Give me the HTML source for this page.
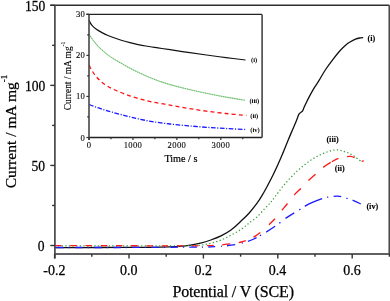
<!DOCTYPE html>
<html><head><meta charset="utf-8">
<style>
html,body{margin:0;padding:0;background:#fff;}
body{width:390px;height:301px;overflow:hidden;}
svg{display:block;will-change:transform;}
text{font-family:"Liberation Serif",serif;fill:#000;stroke:#000;stroke-width:0.25px;}
.tl{font-size:14px;}
.il{font-size:8.6px;stroke-width:0.1px;}
.lb{font-size:15.6px;}
.cl{font-size:8.2px;font-weight:bold;stroke-width:0.1px;}
.ci{font-size:6.6px;font-weight:bold;stroke-width:0;}
</style></head>
<body>
<svg width="390" height="301" viewBox="0 0 390 301">
<rect width="390" height="301" fill="#fff"/>
<g fill="none" stroke-linejoin="round">
<path d="M54.60 247.60 C62.17 247.58 84.10 247.55 100.00 247.50 C115.90 247.45 138.33 247.40 150.00 247.30 C161.67 247.20 165.00 247.07 170.00 246.90 C175.00 246.73 176.62 246.60 180.00 246.30 C183.38 246.00 186.88 245.63 190.30 245.10 C193.72 244.57 197.08 243.95 200.50 243.10 C203.92 242.25 207.38 241.20 210.80 240.00 C214.22 238.80 217.58 237.62 221.00 235.90 C224.42 234.18 227.97 232.17 231.30 229.70 C234.63 227.23 238.05 223.85 241.00 221.10 C243.95 218.35 246.38 216.10 249.00 213.20 C251.62 210.30 254.45 206.78 256.70 203.70 C258.95 200.62 260.68 197.73 262.50 194.70 C264.32 191.67 265.87 188.75 267.60 185.50 C269.33 182.25 271.25 178.53 272.90 175.20 C274.55 171.87 275.90 169.03 277.50 165.50 C279.10 161.97 280.75 158.17 282.50 154.00 C284.25 149.83 286.42 144.33 288.00 140.50 C289.58 136.67 290.58 134.33 292.00 131.00 C293.42 127.67 295.38 123.23 296.50 120.50 C297.62 117.77 298.02 115.92 298.70 114.60 C299.38 113.28 299.95 113.22 300.60 112.60 C301.25 111.98 302.03 111.75 302.60 110.90 C303.17 110.05 303.33 108.98 304.00 107.50 C304.67 106.02 305.72 103.82 306.60 102.00 C307.48 100.18 308.30 98.50 309.30 96.60 C310.30 94.70 311.50 92.48 312.60 90.60 C313.70 88.72 314.80 87.03 315.90 85.30 C317.00 83.57 317.58 82.83 319.20 80.20 C320.82 77.57 323.37 72.90 325.60 69.50 C327.83 66.10 330.28 62.85 332.60 59.80 C334.92 56.75 337.38 53.60 339.50 51.20 C341.62 48.80 343.48 46.97 345.30 45.40 C347.12 43.83 348.70 42.83 350.40 41.80 C352.10 40.77 353.97 39.83 355.50 39.20 C357.03 38.57 358.32 38.27 359.60 38.00 C360.88 37.73 362.60 37.67 363.20 37.60" stroke="#111" stroke-width="1.3"/>
<path d="M54.60 245.80 C65.50 245.80 100.77 245.78 120.00 245.80 C139.23 245.82 158.33 245.93 170.00 245.90 C181.67 245.87 184.92 245.72 190.00 245.60 C195.08 245.48 197.03 245.60 200.50 245.20 C203.97 244.80 207.38 244.05 210.80 243.20 C214.22 242.35 217.58 241.47 221.00 240.10 C224.42 238.73 228.00 236.75 231.30 235.00 C234.60 233.25 237.93 231.52 240.80 229.60 C243.67 227.68 245.87 225.55 248.50 223.50 C251.13 221.45 253.87 219.82 256.60 217.30 C259.33 214.78 262.55 210.90 264.90 208.40 C267.25 205.90 268.98 204.27 270.70 202.30 C272.42 200.33 273.57 198.75 275.20 196.60 C276.83 194.45 278.75 191.65 280.50 189.40 C282.25 187.15 283.87 185.20 285.70 183.10 C287.53 181.00 289.55 178.85 291.50 176.80 C293.45 174.75 295.37 172.68 297.40 170.80 C299.43 168.92 301.60 167.18 303.70 165.50 C305.80 163.82 307.87 162.15 310.00 160.70 C312.13 159.25 314.35 157.98 316.50 156.80 C318.65 155.62 320.78 154.53 322.90 153.60 C325.02 152.67 327.25 151.80 329.20 151.20 C331.15 150.60 333.10 150.22 334.60 150.00 C336.10 149.78 337.00 149.80 338.20 149.90 C339.40 150.00 340.68 150.28 341.80 150.60 C342.92 150.92 343.83 151.42 344.90 151.80 C345.97 152.18 347.10 152.43 348.20 152.90 C349.30 153.37 350.43 154.02 351.50 154.60 C352.57 155.18 353.57 155.70 354.60 156.40 C355.63 157.10 356.63 157.97 357.70 158.80 C358.77 159.63 360.45 160.97 361.00 161.40" stroke="#3c9c3c" stroke-width="1.25" stroke-dasharray="1.3 2.3"/>
<path d="M54.60 245.70 C65.50 245.70 99.10 245.67 120.00 245.70 C140.90 245.73 164.87 245.92 180.00 245.90 C195.13 245.88 202.93 245.88 210.80 245.60 C218.67 245.32 222.08 244.80 227.20 244.20 C232.32 243.60 237.40 242.98 241.50 242.00 C245.60 241.02 249.72 239.15 251.80 238.30 C253.88 237.45 252.63 237.82 254.00 236.90 C255.37 235.98 257.52 234.82 260.00 232.80 C262.48 230.78 266.42 227.13 268.90 224.80 C271.38 222.47 272.73 221.22 274.90 218.80 C277.07 216.38 279.80 212.85 281.90 210.30 C284.00 207.75 285.45 206.05 287.50 203.50 C289.55 200.95 291.98 197.50 294.20 195.00 C296.42 192.50 298.43 190.90 300.80 188.50 C303.17 186.10 305.95 182.98 308.40 180.60 C310.85 178.22 313.03 176.40 315.50 174.20 C317.97 172.00 320.67 169.37 323.20 167.40 C325.73 165.43 328.17 163.90 330.70 162.40 C333.23 160.90 335.70 159.37 338.40 158.40 C341.10 157.43 344.88 156.93 346.90 156.60 C348.92 156.27 349.23 156.23 350.50 156.40 C351.77 156.57 353.25 157.12 354.50 157.60 C355.75 158.08 356.83 158.72 358.00 159.30 C359.17 159.88 360.53 160.83 361.50 161.10 C362.47 161.37 363.42 160.93 363.80 160.90" stroke="#ff1a1a" stroke-width="1.3" stroke-dasharray="0.00 0.53 6.50 8.69 6.50 8.69 6.50 8.69 6.50 8.69 6.50 8.69 6.50 8.69 6.50 8.69 6.50 8.69 6.50 8.69 6.50 8.69 6.50 8.69 8.13 8.43 7.38 8.77 8.18 11.47 8.49 11.01 8.81 10.83 9.27 10.96 9.56 10.28 9.02 1.32 7.37 8.70 7.81 7.84 2.34 393.58"/>
<path d="M54.60 247.50 C65.50 247.50 99.10 247.55 120.00 247.50 C140.90 247.45 164.87 247.30 180.00 247.20 C195.13 247.10 202.25 247.23 210.80 246.90 C219.35 246.57 225.50 246.00 231.30 245.20 C237.10 244.40 241.85 243.13 245.60 242.10 C249.35 241.07 251.40 240.08 253.80 239.00 C256.20 237.92 257.97 236.73 260.00 235.60 C262.03 234.47 263.35 233.83 266.00 232.20 C268.65 230.57 273.58 227.37 275.90 225.80 C278.22 224.23 278.40 223.97 279.90 222.80 C281.40 221.63 282.88 220.23 284.90 218.80 C286.92 217.37 289.52 215.75 292.00 214.20 C294.48 212.65 297.62 210.85 299.80 209.50 C301.98 208.15 302.90 207.32 305.10 206.10 C307.30 204.88 310.17 203.43 313.00 202.20 C315.83 200.97 319.68 199.53 322.10 198.70 C324.52 197.87 325.63 197.58 327.50 197.20 C329.37 196.82 331.72 196.57 333.30 196.40 C334.88 196.23 335.67 196.17 337.00 196.20 C338.33 196.23 339.57 196.22 341.30 196.60 C343.03 196.98 345.35 197.83 347.40 198.50 C349.45 199.17 351.37 199.70 353.60 200.60 C355.83 201.50 359.60 203.35 360.80 203.90" stroke="#1a1aff" stroke-width="1.3" stroke-dasharray="0.00 1.67 7.50 4.90 1.20 5.40 7.50 4.90 1.20 5.40 7.50 4.90 1.20 5.40 7.50 4.90 1.20 5.40 7.50 4.90 1.20 5.40 7.50 4.90 1.20 5.40 7.50 4.90 1.20 5.40 7.50 4.90 1.20 5.40 6.82 6.01 1.01 4.79 8.29 6.73 1.01 5.26 9.58 3.95 1.33 5.98 10.37 5.54 1.37 6.44 10.24 5.77 1.36 5.38 18.93 5.19 1.15 5.36 7.67 5.37 1.32 5.33 8.98 370.17"/>
</g>
<g fill="none">
<path d="M50.30 5.3H389.3 M54.9 253.9H389.3" stroke="#2e2e2e" stroke-width="1.5"/>
<path d="M54.9 5.3V258.50 M389.3 5.3V253.9" stroke="#4a4a4a" stroke-width="1.7"/>
<g stroke="#333" stroke-width="1.4"><line x1="54.60" y1="253.90" x2="54.60" y2="258.50"/>
<line x1="91.80" y1="253.90" x2="91.80" y2="256.70"/>
<line x1="129.00" y1="253.90" x2="129.00" y2="258.50"/>
<line x1="166.20" y1="253.90" x2="166.20" y2="256.70"/>
<line x1="203.40" y1="253.90" x2="203.40" y2="258.50"/>
<line x1="240.60" y1="253.90" x2="240.60" y2="256.70"/>
<line x1="277.80" y1="253.90" x2="277.80" y2="258.50"/>
<line x1="315.00" y1="253.90" x2="315.00" y2="256.70"/>
<line x1="352.20" y1="253.90" x2="352.20" y2="258.50"/>
<line x1="389.40" y1="253.90" x2="389.40" y2="256.70"/>
<line x1="50.30" y1="245.50" x2="54.90" y2="245.50"/>
<line x1="52.10" y1="205.47" x2="54.90" y2="205.47"/>
<line x1="50.30" y1="165.44" x2="54.90" y2="165.44"/>
<line x1="52.10" y1="125.40" x2="54.90" y2="125.40"/>
<line x1="50.30" y1="85.37" x2="54.90" y2="85.37"/>
<line x1="52.10" y1="45.34" x2="54.90" y2="45.34"/>
<line x1="50.30" y1="5.31" x2="54.90" y2="5.31"/></g>
</g>
<rect x="89.0" y="14.4" width="173.10" height="123.10" fill="#fff"/>
<g fill="none" stroke-linejoin="round">
<path d="M88.90 34.30 C89.25 34.78 90.15 36.02 91.00 37.20 C91.85 38.38 92.83 39.90 94.00 41.40 C95.17 42.90 96.42 44.53 98.00 46.20 C99.58 47.87 101.52 49.70 103.50 51.40 C105.48 53.10 107.95 55.00 109.90 56.40 C111.85 57.80 113.52 58.77 115.20 59.80 C116.88 60.83 118.22 61.58 120.00 62.60 C121.78 63.62 123.90 64.78 125.90 65.90 C127.90 67.02 129.73 68.13 132.00 69.30 C134.27 70.47 136.50 71.52 139.50 72.90 C142.50 74.28 146.58 76.18 150.00 77.60 C153.42 79.02 156.67 80.23 160.00 81.40 C163.33 82.57 165.33 83.30 170.00 84.60 C174.67 85.90 181.92 87.75 188.00 89.20 C194.08 90.65 200.17 91.98 206.50 93.30 C212.83 94.62 219.60 95.93 226.00 97.10 C232.40 98.27 241.75 99.77 244.90 100.30" stroke="#a6dba6" stroke-width="1.1"/>
<path d="M88.90 34.30 C89.25 34.78 90.15 36.02 91.00 37.20 C91.85 38.38 92.83 39.90 94.00 41.40 C95.17 42.90 96.42 44.53 98.00 46.20 C99.58 47.87 101.52 49.70 103.50 51.40 C105.48 53.10 107.95 55.00 109.90 56.40 C111.85 57.80 113.52 58.77 115.20 59.80 C116.88 60.83 118.22 61.58 120.00 62.60 C121.78 63.62 123.90 64.78 125.90 65.90 C127.90 67.02 129.73 68.13 132.00 69.30 C134.27 70.47 136.50 71.52 139.50 72.90 C142.50 74.28 146.58 76.18 150.00 77.60 C153.42 79.02 156.67 80.23 160.00 81.40 C163.33 82.57 165.33 83.30 170.00 84.60 C174.67 85.90 181.92 87.75 188.00 89.20 C194.08 90.65 200.17 91.98 206.50 93.30 C212.83 94.62 219.60 95.93 226.00 97.10 C232.40 98.27 241.75 99.77 244.90 100.30" stroke="#55b055" stroke-width="0.9" stroke-dasharray="1 1.3"/>
<path d="M89.20 65.30 C89.50 65.92 90.28 67.72 91.00 69.00 C91.72 70.28 92.57 71.67 93.50 73.00 C94.43 74.33 95.35 75.58 96.60 77.00 C97.85 78.42 99.23 80.00 101.00 81.50 C102.77 83.00 104.87 84.58 107.20 86.00 C109.53 87.42 111.90 88.60 115.00 90.00 C118.10 91.40 121.97 93.00 125.80 94.40 C129.63 95.80 133.57 97.13 138.00 98.40 C142.43 99.67 147.07 100.88 152.40 102.00 C157.73 103.12 164.07 104.05 170.00 105.10 C175.93 106.15 181.92 107.28 188.00 108.30 C194.08 109.32 200.17 110.33 206.50 111.20 C212.83 112.07 219.35 112.78 226.00 113.50 C232.65 114.22 243.00 115.17 246.40 115.50" stroke="#ff1010" stroke-width="1.3" stroke-dasharray="4 3.1"/>
<path d="M89.20 104.50 C90.17 104.88 92.88 106.03 95.00 106.80 C97.12 107.57 99.07 108.20 101.90 109.10 C104.73 110.00 108.02 111.08 112.00 112.20 C115.98 113.32 121.47 114.70 125.80 115.80 C130.13 116.90 133.57 117.83 138.00 118.80 C142.43 119.77 147.07 120.73 152.40 121.60 C157.73 122.47 164.07 123.30 170.00 124.00 C175.93 124.70 181.92 125.25 188.00 125.80 C194.08 126.35 200.17 126.85 206.50 127.30 C212.83 127.75 219.52 128.13 226.00 128.50 C232.48 128.87 242.17 129.33 245.40 129.50" stroke="#1515ff" stroke-width="1.3" stroke-dasharray="4.6 1.6 1.1 1.6"/>
<path d="M89.20 20.00 C89.33 20.40 89.53 21.50 90.00 22.40 C90.47 23.30 91.00 24.30 92.00 25.40 C93.00 26.50 94.33 27.80 96.00 29.00 C97.67 30.20 100.00 31.52 102.00 32.60 C104.00 33.68 106.00 34.63 108.00 35.50 C110.00 36.37 111.67 36.97 114.00 37.80 C116.33 38.63 119.35 39.68 122.00 40.50 C124.65 41.32 127.40 42.07 129.90 42.70 C132.40 43.33 134.35 43.75 137.00 44.30 C139.65 44.85 142.30 45.40 145.80 46.00 C149.30 46.60 153.97 47.28 158.00 47.90 C162.03 48.52 165.00 48.95 170.00 49.70 C175.00 50.45 181.92 51.52 188.00 52.40 C194.08 53.28 200.17 54.13 206.50 55.00 C212.83 55.87 219.50 56.77 226.00 57.60 C232.50 58.43 242.25 59.60 245.50 60.00" stroke="#111" stroke-width="1.2"/>
</g>
<g fill="none">
<path d="M86.40 14.4H262.1 M89.0 137.5H262.1" stroke="#222" stroke-width="1.4"/>
<path d="M89.0 14.4V140.10 M262.1 14.4V137.5" stroke="#484848" stroke-width="1.6"/>
<g stroke="#333" stroke-width="1.2"><line x1="89.00" y1="137.50" x2="89.00" y2="140.10"/>
<line x1="110.97" y1="137.50" x2="110.97" y2="139.30"/>
<line x1="132.93" y1="137.50" x2="132.93" y2="140.10"/>
<line x1="154.89" y1="137.50" x2="154.89" y2="139.30"/>
<line x1="176.86" y1="137.50" x2="176.86" y2="140.10"/>
<line x1="198.82" y1="137.50" x2="198.82" y2="139.30"/>
<line x1="220.79" y1="137.50" x2="220.79" y2="140.10"/>
<line x1="242.75" y1="137.50" x2="242.75" y2="139.30"/>
<line x1="86.40" y1="137.50" x2="89.00" y2="137.50"/>
<line x1="87.20" y1="116.97" x2="89.00" y2="116.97"/>
<line x1="86.40" y1="96.43" x2="89.00" y2="96.43"/>
<line x1="87.20" y1="75.89" x2="89.00" y2="75.89"/>
<line x1="86.40" y1="55.36" x2="89.00" y2="55.36"/>
<line x1="87.20" y1="34.82" x2="89.00" y2="34.82"/>
<line x1="86.40" y1="14.29" x2="89.00" y2="14.29"/></g>
</g>
<text transform="translate(44.50 251.00) scale(0.92 1)" text-anchor="end" class="tl" style="font-size:14.8px">0</text>
<text transform="translate(45.10 170.94) scale(0.92 1)" text-anchor="end" class="tl" style="font-size:14.8px">50</text>
<text transform="translate(45.30 90.87) scale(0.92 1)" text-anchor="end" class="tl" style="font-size:14.8px">100</text>
<text transform="translate(45.40 10.81) scale(0.92 1)" text-anchor="end" class="tl" style="font-size:14.8px">150</text>
<text x="54.40" y="274.6" text-anchor="middle" class="tl">-0.2</text>
<text x="128.80" y="274.6" text-anchor="middle" class="tl">0.0</text>
<text x="203.20" y="274.6" text-anchor="middle" class="tl">0.2</text>
<text x="277.60" y="274.6" text-anchor="middle" class="tl">0.4</text>
<text x="352.00" y="274.6" text-anchor="middle" class="tl">0.6</text>
<text x="84.7" y="140.50" text-anchor="end" class="il">0</text>
<text x="84.7" y="99.43" text-anchor="end" class="il">10</text>
<text x="84.7" y="58.36" text-anchor="end" class="il">20</text>
<text x="84.7" y="17.29" text-anchor="end" class="il">30</text>
<text x="89.05" y="148.0" text-anchor="middle" class="il" style="letter-spacing:0.35px">0</text>
<text x="132.98" y="148.0" text-anchor="middle" class="il" style="letter-spacing:0.35px">1000</text>
<text x="176.91" y="148.0" text-anchor="middle" class="il" style="letter-spacing:0.35px">2000</text>
<text x="220.84" y="148.0" text-anchor="middle" class="il" style="letter-spacing:0.35px">3000</text>
<text class="lb" x="172.4" y="296.8" style="font-size:16px;letter-spacing:-0.15px">Potential / V (SCE)</text>
<text class="lb" transform="translate(16.3 188.3) rotate(-90)">Current / mA mg<tspan dy="-9.5" font-size="9">-1</tspan></text>
<text style="font-size:10.2px;stroke-width:0.2px" x="164.4" y="161.6">Time / s</text>
<text style="font-size:9.4px;stroke-width:0.12px" transform="translate(71.4 110.2) rotate(-90)">Current / mA mg<tspan dy="-6.2" font-size="5.6">-1</tspan></text>
<text class="cl" x="367.6" y="41.0">(i)</text>
<text class="cl" x="326.4" y="142.4">(iii)</text>
<text class="cl" x="334.8" y="170.6">(ii)</text>
<text class="cl" x="366.4" y="209.4">(iv)</text>
<text class="ci" x="251.0" y="62.3">(i)</text>
<text class="ci" x="249.4" y="102.8">(iii)</text>
<text class="ci" x="250.2" y="118.4">(ii)</text>
<text class="ci" x="250.2" y="131.6">(iv)</text>
</svg>
</body></html>
